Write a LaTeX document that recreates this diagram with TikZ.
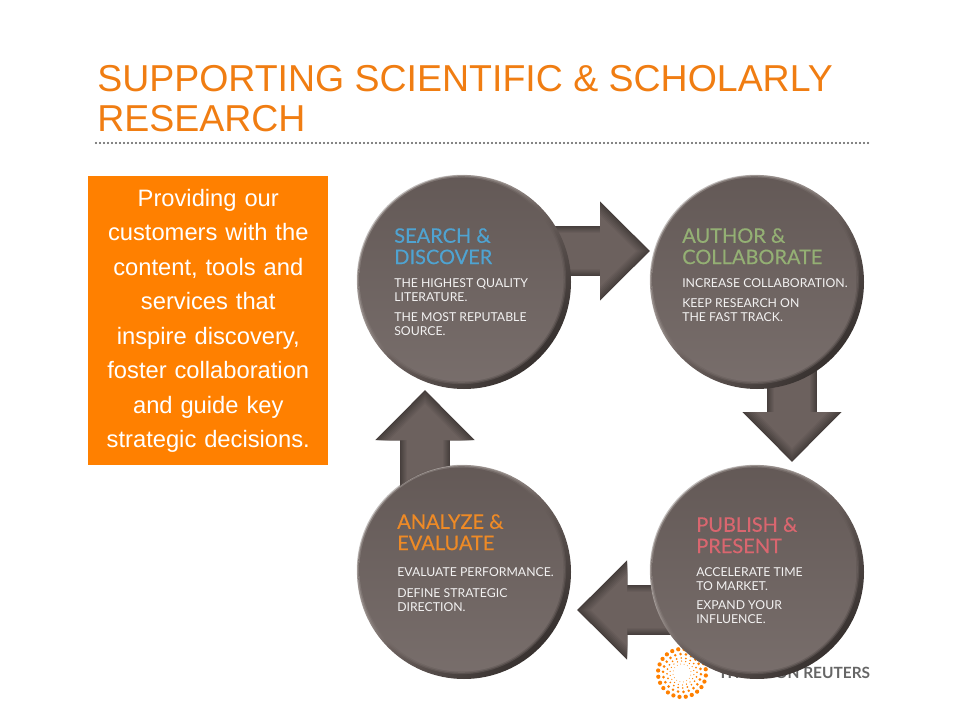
\documentclass[tikz,border=0pt]{standalone}
\usepackage{fontspec}
\setmainfont{Liberation Sans}
\newfontfamily\circlefont{Lato}
\newfontfamily\headfont[FakeBold=0.35]{Lato}
\usetikzlibrary{arrows.meta,backgrounds}

\definecolor{trorange}{HTML}{FF8000}
\definecolor{trtitle}{HTML}{F07D12}
\definecolor{disc}{HTML}{6C615E}
\definecolor{discdark}{HTML}{37312F}
\definecolor{disclight}{HTML}{E6E1DD}
\definecolor{searchcol}{HTML}{4FA3D1}
\definecolor{authorcol}{HTML}{94B074}
\definecolor{publishcol}{HTML}{D9666F}
\definecolor{analyzecol}{HTML}{EE8A26}

\tikzset{
	discbase/.style={circle, minimum size=160.5pt, inner sep=0pt, top color=disclight, bottom color=discdark, middle color=disc, shading angle=45},
	discface/.style={circle, inner sep=0pt, top color=disc!92!black, bottom color=disc!92!white},
	headtext/.style={anchor=north west, inner sep=0pt, align=left, font=\headfont\fontsize{15}{16}\selectfont},
	bodytext/.style={anchor=north west, inner sep=0pt, align=left, text=white!92!disc, font=\circlefont\fontsize{9.2}{10.6}\selectfont},
	flowlayer/.style={line width=#1*37.5pt, -{Triangle[length=#1*37.5pt, width=#1*72pt]}},
}

\begin{document}
\begin{tikzpicture}[x=0.75pt,y=-0.75pt]
	\useasboundingbox (0,0) rectangle (960,720);
	% logo goes under the discs
	\foreach \r/\n/\s in {9/16/0.35,12/18/0.5,15/20/0.7,19/22/1.1,24/24/1.6}
		\foreach \i in {1,...,\n}
			\fill[trorange] (682,673) ++({\i*360/\n+\r*11}:\r*0.75pt) circle (\s pt);
	\node[anchor=west, inner sep=0pt, text=black!60, font=\circlefont\bfseries\fontsize{11.6}{12}\selectfont] (logotext) at (718,673) {THOMSON REUTERS};

	\node[font=\fontsize{28.1}{30}\selectfont, text=trtitle, anchor=north west, inner sep=0pt, align=left] (title) at (97,65) {SUPPORTING SCIENTIFIC \& SCHOLARLY\\RESEARCH};
	\coordinate (rulea) at (96,143);
	\coordinate (ruleb) at (868,143);
	\draw[black!65, line width=1.6pt, line cap=round, dash pattern=on 0pt off 3pt] (rulea) -- (ruleb);

	\node[fill=trorange, text=white, anchor=north west, minimum width=180pt, minimum height=216.75pt, text width=174pt, align=center, inner sep=0pt, font=\fontsize{17.8}{25.9}\selectfont] (intro) at (88,176) {Providing our\\customers with the\\content, tools and\\services that\\inspire discovery,\\foster collaboration\\and guide key\\strategic decisions.};

	% discs, each one a rim and a soft face
	\node[discbase] (search) at (464,282) {};
	\node[discbase] (author) at (757,282) {};
	\node[discbase] (analyze) at (464,572) {};
	\node[discbase] (publish) at (757,572) {};
	\foreach \d in {search,author,analyze,publish}
		\foreach \s/\o in {157/0.4,155/0.6,153/1}
			\node[discface, minimum size=\s pt, opacity=\o] at ([shift={(-2.5,-2.5)}]\d.center) {};

	\coordinate (tipa) at (650,251);
	\coordinate (tipb) at (792,462);
	\coordinate (tipc) at (577,610);
	\coordinate (tipd) at (425,390);
	\begin{scope}[on background layer]
	\foreach \k/\p/\b in {1/70/0,0.96/60/1.5,0.92/50/3,0.88/40/4.5,0.84/30/6,0.8/20/7.5,0.76/10/9,0.72/0/10.5}{
		\draw[flowlayer=\k, color=discdark!\p!disc, shorten >=\b] (search.center |- tipa) -- (tipa);
		\draw[flowlayer=\k, color=discdark!\p!disc, shorten >=\b] (author.center -| tipb) -- (tipb);
		\draw[flowlayer=\k, color=discdark!\p!disc, shorten >=\b] (publish.center |- tipc) -- (tipc);
		\draw[flowlayer=\k, color=discdark!\p!disc, shorten >=\b] (analyze.center -| tipd) -- (tipd);
	}
	\end{scope}

	\node[headtext, text=searchcol] (searchhead) at (394,228) {SEARCH \&\\DISCOVER};
	\node[bodytext] (searchbody) at (394,278) {THE HIGHEST QUALITY\\LITERATURE.};
	\node[bodytext] (searchmore) at (394,312) {THE MOST REPUTABLE\\SOURCE.};

	\node[headtext, text=authorcol] (authorhead) at (682,228) {AUTHOR \&\\COLLABORATE};
	\node[bodytext] (authorbody) at (682,278) {INCREASE COLLABORATION.};
	\node[bodytext] (authormore) at (682,298) {KEEP RESEARCH ON\\THE FAST TRACK.};

	\node[headtext, text=publishcol] (publishhead) at (696,517) {PUBLISH \&\\PRESENT};
	\node[bodytext] (publishbody) at (696,567) {ACCELERATE TIME\\TO MARKET.};
	\node[bodytext] (publishmore) at (696,600) {EXPAND YOUR\\INFLUENCE.};

	\node[headtext, text=analyzecol] (analyzehead) at (397,514) {ANALYZE \&\\EVALUATE};
	\node[bodytext] (analyzebody) at (397,567) {EVALUATE PERFORMANCE.};
	\node[bodytext] (analyzemore) at (397,588) {DEFINE STRATEGIC\\DIRECTION.};
\end{tikzpicture}
\end{document}
